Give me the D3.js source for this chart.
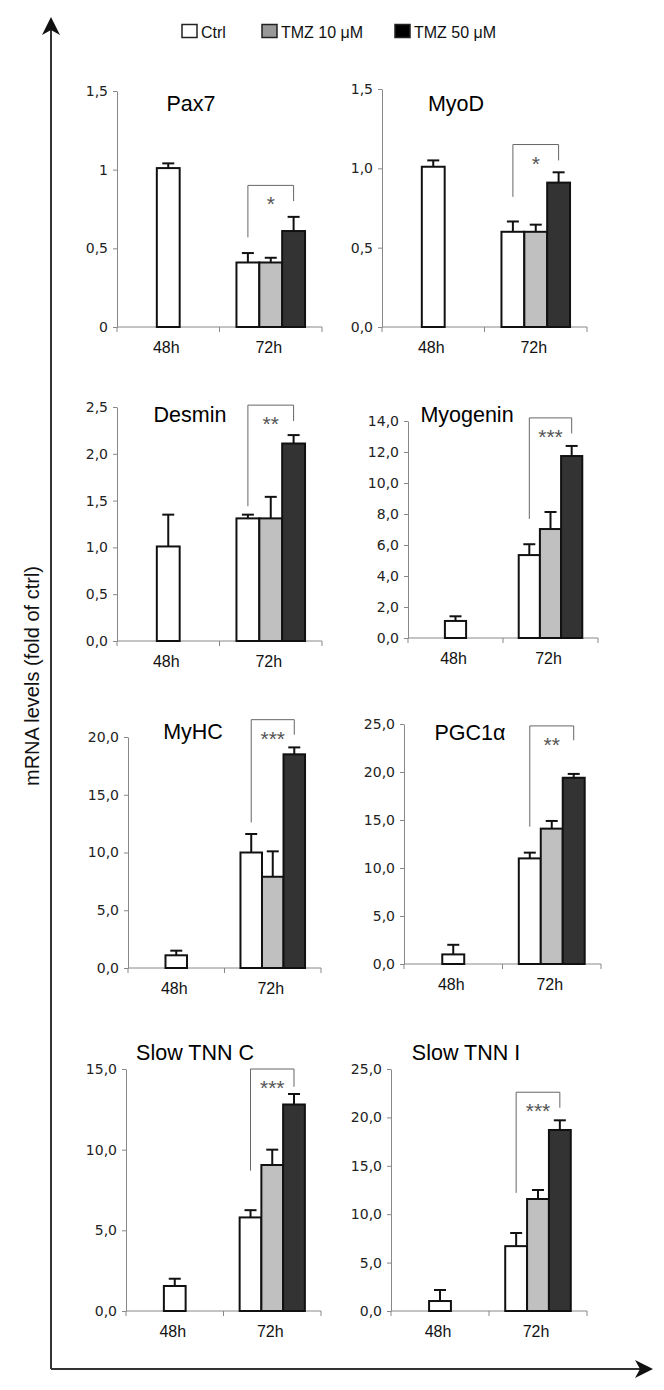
<!DOCTYPE html>
<html>
<head>
<meta charset="utf-8">
<script src="https://cdn.jsdelivr.net/npm/d3@7/dist/d3.min.js"></script>
<style>
  html, body { margin: 0; padding: 0; background: #fff; }
  svg { display: block; }
</style>
</head>
<body>
<svg id="chart" width="664" height="1390"></svg>
<script>
// ---------------- DATA ----------------
const genes = ["Pax7", "MyoD", "Desmin", "Myogenin", "MyHC", "PGC1\u03B1", "Slow TNN C", "Slow TNN I"];
const timepoints = ["48h", "72h"];
const seriesNames = ["Ctrl", "TMZ 10 \u03BCM", "TMZ 50 \u03BCM"];

const ctrl48    = [1.01, 1.01, 1.01, 1.10, 1.10, 1.00, 1.55, 1.03];
const ctrl48Err = [0.03, 0.04, 0.34, 0.30, 0.40, 1.00, 0.45, 1.14];
const ctrl72    = [0.41, 0.60, 1.31, 5.35, 10.0, 11.0, 5.80, 6.70];
const ctrl72Err = [0.06, 0.065, 0.04, 0.70, 1.60, 0.60, 0.45, 1.36];
const tmz10     = [0.41, 0.60, 1.31, 7.03, 7.90, 14.1, 9.05, 11.57];
const tmz10Err  = [0.03, 0.045, 0.23, 1.10, 2.20, 0.80, 0.95, 0.93];
const tmz50     = [0.61, 0.91, 2.11, 11.74, 18.5, 19.4, 12.8, 18.7];
const tmz50Err  = [0.09, 0.065, 0.09, 0.65, 0.60, 0.40, 0.65, 1.00];

const yMax  = [1.5, 1.5, 2.5, 14, 20, 25, 15, 25];
const yStep = [0.5, 0.5, 0.5, 2, 5, 5, 5, 5];
const tickLabels = [
  ["0", "0,5", "1", "1,5"],
  ["0,0", "0,5", "1,0", "1,5"],
  ["0,0", "0,5", "1,0", "1,5", "2,0", "2,5"],
  ["0,0", "2,0", "4,0", "6,0", "8,0", "10,0", "12,0", "14,0"],
  ["0,0", "5,0", "10,0", "15,0", "20,0"],
  ["0,0", "5,0", "10,0", "15,0", "20,0", "25,0"],
  ["0,0", "5,0", "10,0", "15,0"],
  ["0,0", "5,0", "10,0", "15,0", "20,0", "25,0"]
];

// significance brackets (data units): top, left leg bottom, right leg bottom
const sigStars    = ["*", "*", "**", "***", "***", "**", "***", "***"];
const sigTop      = [0.90, 1.15, 2.52, 14.2, 21.5, 24.8, 15.0, 22.6];
const sigLeftEnd  = [0.57, 0.82, 1.44, 7.68, 12.6, 14.3, 8.7, 12.2];
const sigRightEnd = [0.80, 1.05, 2.35, 13.2, 20.2, 23.3, 13.9, 21.0];

// ---------------- LAYOUT ----------------
const layout = [
  {x0: 117, x1: 322, yTop: 91,   yBase: 327,  tx: 191, ty: 111},
  {x0: 382, x1: 587, yTop: 89,   yBase: 327,  tx: 456, ty: 111},
  {x0: 117, x1: 322, yTop: 407,  yBase: 641,  tx: 190, ty: 422},
  {x0: 408, x1: 598, yTop: 421,  yBase: 638,  tx: 467, ty: 422},
  {x0: 128, x1: 321, yTop: 737,  yBase: 968,  tx: 193, ty: 739},
  {x0: 404, x1: 601, yTop: 724,  yBase: 964,  tx: 470, ty: 740},
  {x0: 126, x1: 321, yTop: 1069, yBase: 1311, tx: 195, ty: 1060},
  {x0: 391, x1: 587, yTop: 1069, yBase: 1311, tx: 466, ty: 1060}
];
const barFills = ["#ffffff", "#c0c0c0", "#333333"];
const legendFills = ["#ffffff", "#999999", "#000000"];

const svg = d3.select("#chart");
const SANS = "'Liberation Sans', Arial, sans-serif";
const VERD = "'DejaVu Sans', Verdana, sans-serif";

// ---------------- LEGEND ----------------
const legendX = [182, 262, 395];
const lg = svg.append("g");
seriesNames.forEach((name, i) => {
  lg.append("rect").attr("x", legendX[i]).attr("y", 24.5).attr("width", 15).attr("height", 13)
    .attr("fill", legendFills[i]).attr("stroke", "#222").attr("stroke-width", 1.5);
  lg.append("text").attr("x", legendX[i] + 19).attr("y", 37.5)
    .attr("font-family", SANS).attr("font-size", 16).attr("fill", "#111").text(name);
});

// ---------------- BIG AXES ----------------
const axisColor = "#333";
svg.append("line").attr("x1", 51).attr("x2", 51).attr("y1", 1369).attr("y2", 28)
  .attr("stroke", axisColor).attr("stroke-width", 2);
svg.append("path").attr("d", "M51,17 L42,35 L51,30 L60,35 Z").attr("fill", "#111");
svg.append("line").attr("x1", 51).attr("x2", 642).attr("y1", 1369).attr("y2", 1369)
  .attr("stroke", axisColor).attr("stroke-width", 2);
svg.append("path").attr("d", "M653,1369 L635,1360 L640,1369 L635,1378 Z").attr("fill", "#111");

svg.append("text")
  .attr("transform", "translate(39,676) rotate(-90)")
  .attr("text-anchor", "middle")
  .attr("font-family", SANS).attr("font-size", 20).attr("fill", "#111")
  .text("mRNA levels (fold of ctrl)");

// ---------------- PANELS ----------------
genes.forEach((gene, i) => {
  const L = layout[i];
  const g = svg.append("g");

  const y = d3.scaleLinear().domain([0, yMax[i]]).range([L.yBase, L.yTop]);
  const x = d3.scaleBand().domain(timepoints).range([L.x0, L.x1]).padding(0);
  const barW = x.bandwidth() * 0.223;

  // y axis
  const nTicks = Math.round(yMax[i] / yStep[i]);
  const tickVals = d3.range(nTicks + 1).map(k => +(k * yStep[i]).toFixed(3));
  const yAxis = d3.axisLeft(y).tickValues(tickVals)
    .tickFormat((d, k) => tickLabels[i][k]).tickSize(4).tickSizeOuter(0).tickPadding(5);
  const ya = g.append("g").attr("transform", `translate(${L.x0},0)`).call(yAxis);
  ya.select(".domain").attr("stroke", "#888").attr("stroke-width", 1);
  ya.selectAll(".tick line").attr("stroke", "#888");
  ya.selectAll(".tick text").attr("font-family", VERD).attr("font-size", 14).attr("fill", "#222");

  // x axis
  const xa = g.append("g").attr("transform", `translate(0,${L.yBase})`);
  xa.append("line").attr("x1", L.x0).attr("x2", L.x1).attr("y1", 0).attr("y2", 0)
    .attr("stroke", "#888").attr("stroke-width", 1);
  const bounds = [L.x0, x("72h"), L.x1];
  bounds.forEach(b => {
    xa.append("line").attr("x1", b).attr("x2", b).attr("y1", 0).attr("y2", 5)
      .attr("stroke", "#888").attr("stroke-width", 1);
  });
  timepoints.forEach(t => {
    xa.append("text").attr("x", x(t) + x.bandwidth() / 2 - 2).attr("y", 26)
      .attr("text-anchor", "middle").attr("font-family", SANS).attr("font-size", 16)
      .attr("fill", "#111").text(t);
  });

  // bar data
  const bars = [
    {tp: "48h", s: 0, v: ctrl48[i], e: ctrl48Err[i]},
    {tp: "72h", s: 0, v: ctrl72[i], e: ctrl72Err[i]},
    {tp: "72h", s: 1, v: tmz10[i], e: tmz10Err[i]},
    {tp: "72h", s: 2, v: tmz50[i], e: tmz50Err[i]}
  ];
  const bx = d => {
    const c = x(d.tp) + x.bandwidth() / 2;
    if (d.tp === "48h") return c - barW / 2;
    const inner = d3.scaleBand().domain([0, 1, 2]).range([c - 1.5 * barW, c + 1.5 * barW]);
    return inner(d.s);
  };

  // error bars
  bars.forEach(d => {
    const cx = bx(d) + barW / 2;
    g.append("line").attr("x1", cx).attr("x2", cx).attr("y1", y(d.v)).attr("y2", y(d.v + d.e))
      .attr("stroke", "#111").attr("stroke-width", 2);
    g.append("line").attr("x1", cx - 6).attr("x2", cx + 6).attr("y1", y(d.v + d.e)).attr("y2", y(d.v + d.e))
      .attr("stroke", "#111").attr("stroke-width", 2);
  });

  g.selectAll("rect.bar").data(bars).join("rect").attr("class", "bar")
    .attr("x", d => bx(d)).attr("width", barW)
    .attr("y", d => y(d.v)).attr("height", d => L.yBase - y(d.v))
    .attr("fill", d => barFills[d.s]).attr("stroke", "#111").attr("stroke-width", 2);

  // significance bracket
  const lx = bx(bars[1]) + barW / 2;
  const rx = bx(bars[3]) + barW / 2;
  g.append("path")
    .attr("d", `M${lx},${y(sigLeftEnd[i])} L${lx},${y(sigTop[i])} L${rx},${y(sigTop[i])} L${rx},${y(sigRightEnd[i])}`)
    .attr("fill", "none").attr("stroke", "#666").attr("stroke-width", 1);
  g.append("text").attr("x", (lx + rx) / 2).attr("y", y(sigTop[i]) + 26)
    .attr("text-anchor", "middle").attr("font-family", SANS).attr("font-size", 21)
    .attr("fill", "#555").text(sigStars[i]);

  // title
  g.append("text").attr("x", L.tx).attr("y", L.ty).attr("text-anchor", "middle")
    .attr("font-family", SANS).attr("font-size", 21.5).attr("fill", "#000").text(gene);
});
</script>
</body>
</html>
